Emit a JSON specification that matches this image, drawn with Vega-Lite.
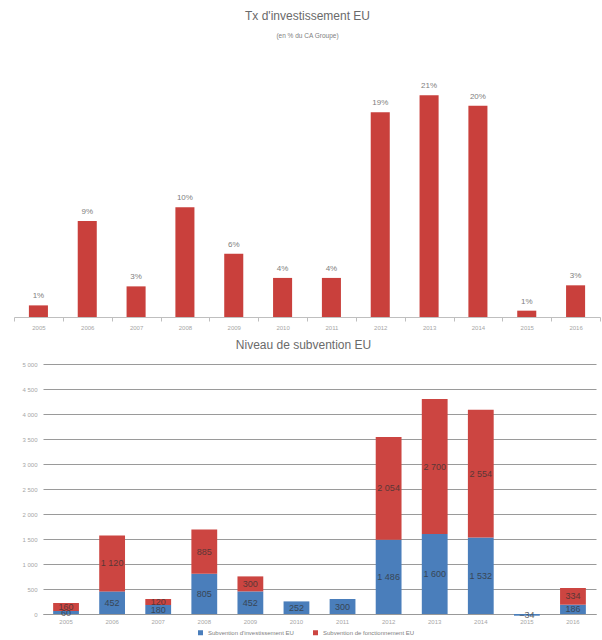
{
  "$schema": "https://vega.github.io/schema/vega-lite/v6.json",
  "background": "white",
  "padding": {"left": 13, "top": 9, "right": 2, "bottom": 2},
  "config": {
    "font": "Liberation Sans",
    "view": {"stroke": null},
    "locale": {"number": {"decimal": ",", "thousands": " ", "grouping": [3], "currency": ["", " €"]}}
  },
  "spacing": 9,
  "vconcat": [
    {
      "title": {"text": "Tx d'investissement EU", "subtitle": "(en % du CA Groupe)", "fontSize": 12, "fontWeight": "normal", "color": "#6a6a6a", "subtitleFontSize": 6.5, "subtitleColor": "#808080", "subtitlePadding": 10, "offset": 13, "dx": -14},
      "width": 557,
      "height": 264,
      "data": {"values": [
        {"cat": "2005", "taux": 0.011},
        {"cat": "2006", "taux": 0.091},
        {"cat": "2007", "taux": 0.029},
        {"cat": "2008", "taux": 0.104},
        {"cat": "2009", "taux": 0.060},
        {"cat": "2010", "taux": 0.037},
        {"cat": "2011", "taux": 0.037},
        {"cat": "2012", "taux": 0.194},
        {"cat": "2013", "taux": 0.210},
        {"cat": "2014", "taux": 0.200},
        {"cat": "2015", "taux": 0.006},
        {"cat": "2016", "taux": 0.030}
      ]},
      "encoding": {
        "x": {"field": "cat", "type": "ordinal", "sort": null, "scale": {"paddingInner": 0, "paddingOuter": 0, "range": [-29, 557]},
          "axis": {"title": null, "labelAngle": 0, "labelFontSize": 6, "labelColor": "#a6a6a6", "domainColor": "#bfbfbf", "tickColor": "#bfbfbf", "tickBand": "extent", "tickSize": 4, "labelPadding": 3}},
        "y": {"field": "taux", "type": "quantitative", "scale": {"domain": [0, 0.25], "nice": false}, "axis": null}
      },
      "layer": [
        {"mark": {"type": "bar", "color": "#c9403c", "width": {"band": 0.39}}},
        {"mark": {"type": "text", "dy": -9, "fontSize": 8, "color": "#808080"}, "encoding": {"text": {"field": "taux", "format": ".0%"}}}
      ]
    },
    {
      "title": {"text": "Niveau de subvention EU", "fontSize": 12, "fontWeight": "normal", "color": "#6a6a6a", "offset": 9, "dx": -16},
      "width": 553,
      "height": 250,
      "data": {"values": [
        {"cat": "2005", "serie": "Subvention d'investissement EU", "montant": 60},
        {"cat": "2005", "serie": "Subvention de fonctionnement EU", "montant": 160},
        {"cat": "2006", "serie": "Subvention d'investissement EU", "montant": 452},
        {"cat": "2006", "serie": "Subvention de fonctionnement EU", "montant": 1120},
        {"cat": "2007", "serie": "Subvention d'investissement EU", "montant": 180},
        {"cat": "2007", "serie": "Subvention de fonctionnement EU", "montant": 120},
        {"cat": "2008", "serie": "Subvention d'investissement EU", "montant": 805},
        {"cat": "2008", "serie": "Subvention de fonctionnement EU", "montant": 885},
        {"cat": "2009", "serie": "Subvention d'investissement EU", "montant": 452},
        {"cat": "2009", "serie": "Subvention de fonctionnement EU", "montant": 300},
        {"cat": "2010", "serie": "Subvention d'investissement EU", "montant": 252},
        {"cat": "2011", "serie": "Subvention d'investissement EU", "montant": 300},
        {"cat": "2012", "serie": "Subvention d'investissement EU", "montant": 1486},
        {"cat": "2012", "serie": "Subvention de fonctionnement EU", "montant": 2054},
        {"cat": "2013", "serie": "Subvention d'investissement EU", "montant": 1600},
        {"cat": "2013", "serie": "Subvention de fonctionnement EU", "montant": 2700},
        {"cat": "2014", "serie": "Subvention d'investissement EU", "montant": 1532},
        {"cat": "2014", "serie": "Subvention de fonctionnement EU", "montant": 2554},
        {"cat": "2015", "serie": "Subvention d'investissement EU", "montant": -34},
        {"cat": "2016", "serie": "Subvention d'investissement EU", "montant": 186},
        {"cat": "2016", "serie": "Subvention de fonctionnement EU", "montant": 334}
      ]},
      "encoding": {
        "x": {"field": "cat", "type": "ordinal", "sort": null, "scale": {"paddingInner": 0, "paddingOuter": 0},
          "axis": {"title": null, "labelAngle": 0, "labelFontSize": 6, "labelColor": "#a6a6a6", "domainColor": "#999999", "ticks": false, "labelPadding": 4}},
        "y": {"field": "montant", "type": "quantitative", "stack": "zero", "scale": {"domain": [0, 5000], "nice": false},
          "axis": {"title": null, "values": [0, 500, 1000, 1500, 2000, 2500, 3000, 3500, 4000, 4500, 5000], "format": ",.0f", "grid": true, "gridColor": "#9a9a9a", "gridWidth": 1.2, "domain": false, "ticks": false, "labelFontSize": 6, "labelColor": "#a6a6a6", "labelPadding": 6, "minExtent": 30, "maxExtent": 30}},
        "order": {"field": "serie", "sort": "ascending"},
        "color": {"field": "serie", "type": "nominal",
          "scale": {"domain": ["Subvention d'investissement EU", "Subvention de fonctionnement EU"], "range": ["#4a7ebb", "#cc4541"]},
          "legend": {"title": null, "orient": "none", "legendX": 154, "legendY": 576, "direction": "horizontal", "symbolType": "square", "symbolSize": 25, "labelFontSize": 6, "labelColor": "#808080", "columnPadding": 18}}
      },
      "layer": [
        {"mark": {"type": "bar", "width": {"band": 0.56}, "clip": false}},
        {"mark": {"type": "text", "fontSize": 9, "opacity": 0.75}, "encoding": {
          "y": {"field": "montant", "type": "quantitative", "stack": "zero", "bandPosition": 0.5},
          "detail": {"field": "serie"},
          "color": {"value": "#333333"},
          "text": {"field": "montant", "format": ",.0f"}}}
      ]
    }
  ]
}
